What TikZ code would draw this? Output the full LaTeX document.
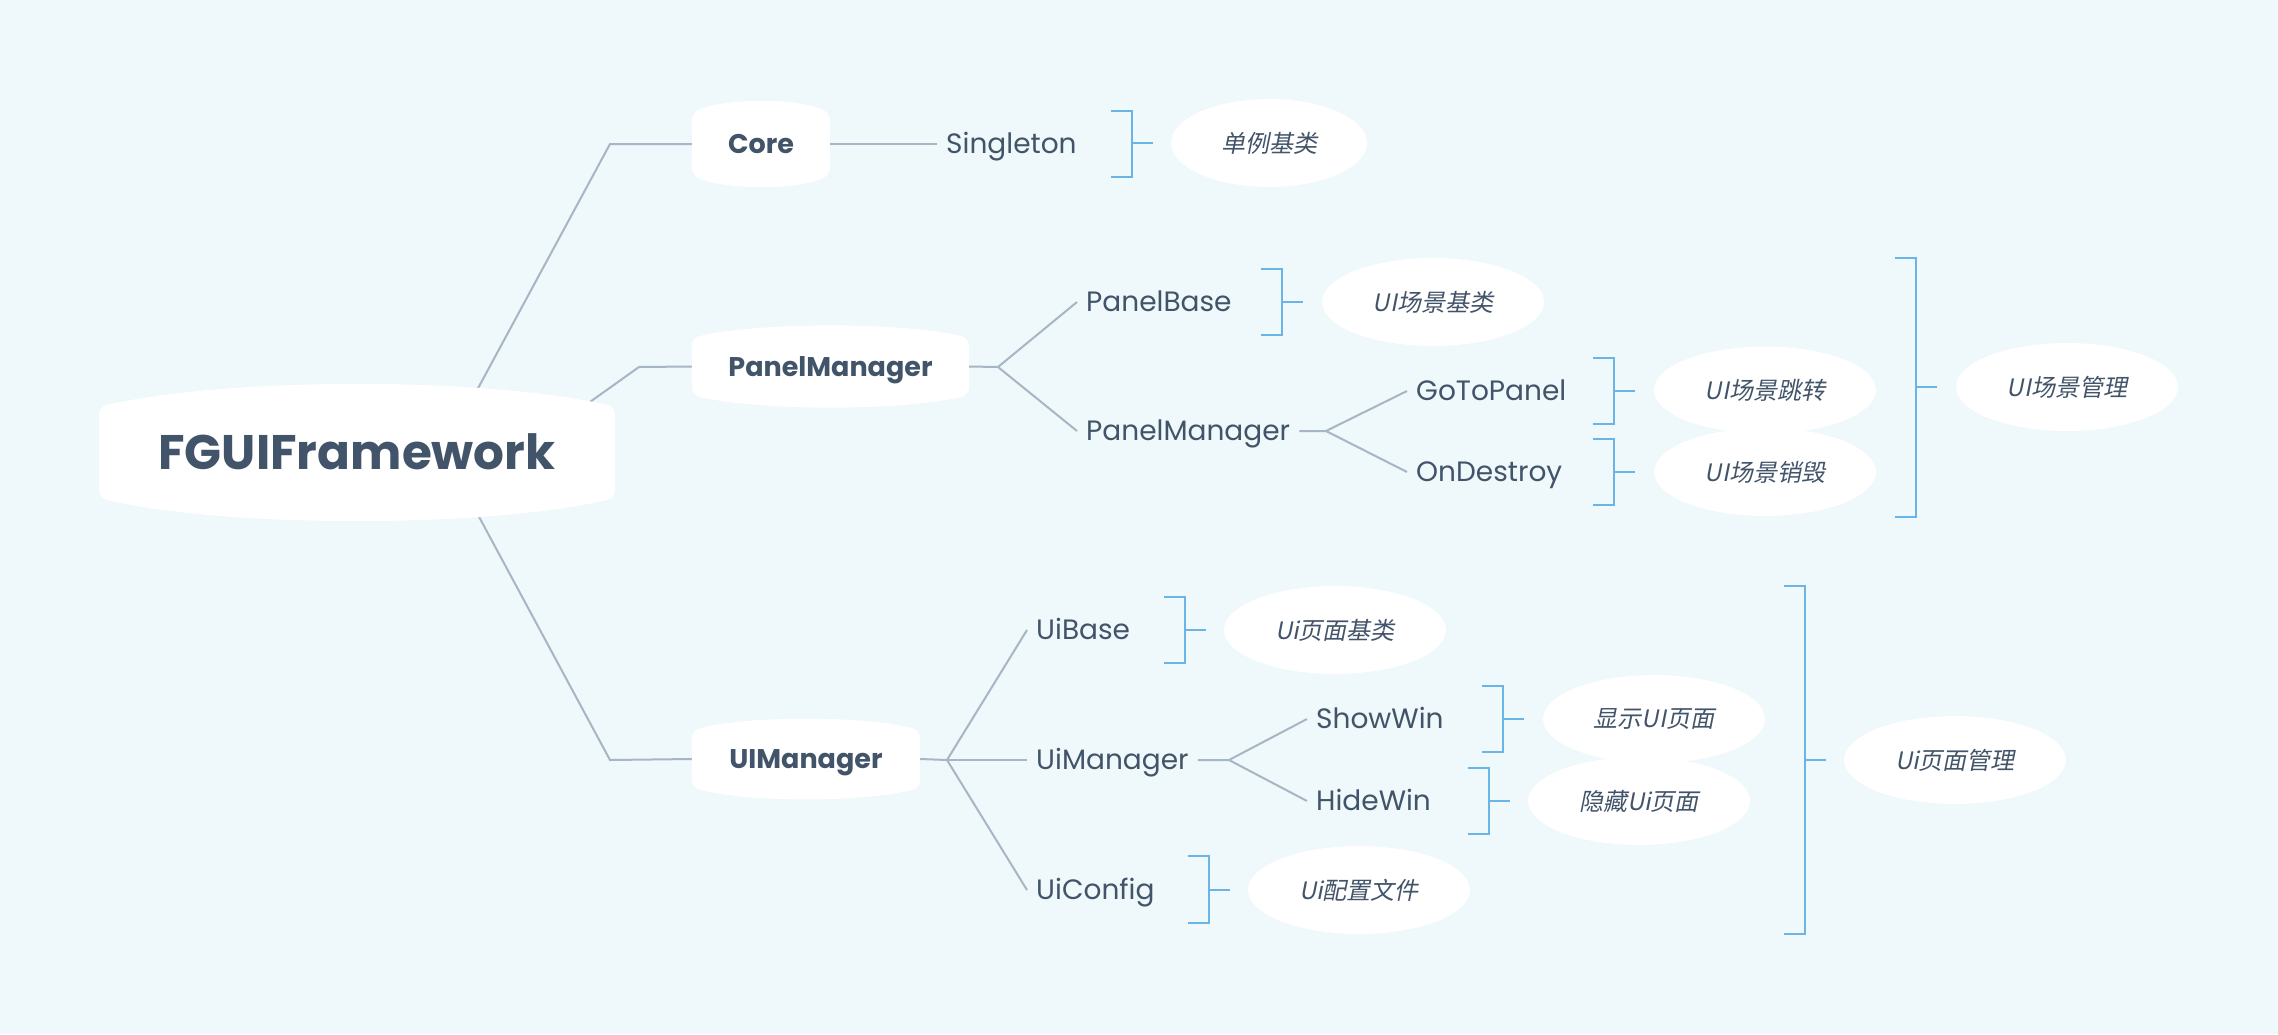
\documentclass[tikz,border=0pt]{standalone}
\usepackage{fontspec}
\setmainfont{Poppins}
\newfontfamily\cjk[FakeSlant=0.2]{Noto Sans CJK SC}
\usetikzlibrary{shapes.geometric,calc}
\pgfdeclarelayer{bg}\pgfdeclarelayer{lines}\pgfdeclarelayer{shapes}
\pgfsetlayers{bg,lines,shapes,main}
\definecolor{bgc}{HTML}{EFF8FA}
\definecolor{txt}{HTML}{425469}
\definecolor{connc}{HTML}{A7B6C5}
\definecolor{brk}{HTML}{6AB4E6}
\newcommand\barrelfill[2]{%
 \begin{pgfonlayer}{shapes}
 \fill[white, rounded corners=8pt] (#1.north west) .. controls ($(#1.north west)!0.25!(#1.north east)+(0,-#2)$) and ($(#1.north west)!0.75!(#1.north east)+(0,-#2)$) .. (#1.north east) -- (#1.south east) .. controls ($(#1.south west)!0.75!(#1.south east)+(0,#2)$) and ($(#1.south west)!0.25!(#1.south east)+(0,#2)$) .. (#1.south west) -- cycle;
 \end{pgfonlayer}}
\newcommand\brak[4]{%
 \draw[brkline] (#1,#2) -| (#1+21,#3) -- (#1,#3);
 \draw[brkline] (#1+21,#4) -- (#1+42,#4);}
\tikzset{
 mainbox/.style={font=\bfseries\fontsize{27}{31}\selectfont, text=txt, inner sep=0pt, text height=19pt, text depth=0pt},
 plain/.style={font=\fontsize{28}{32}\selectfont, text=txt, inner xsep=9pt, inner ysep=4pt, text height=19.5pt, text depth=0pt, anchor=west},
 oval/.style={ellipse, fill=white, inner sep=0pt, font=\cjk\fontsize{24}{28}\selectfont, text=txt},
 connline/.style={draw=connc, line width=2pt},
 brkline/.style={draw=brk, line width=2pt},
}
\begin{document}
\begin{tikzpicture}[x=1pt,y=-1pt]
\begin{pgfonlayer}{bg}
\fill[bgc] (0,0) rectangle (2278,1034);
\end{pgfonlayer}
\useasboundingbox (0,0) rectangle (2278,1034);

% main boxes
\node[mainbox, font=\bfseries\fontsize{48.5}{54}\selectfont, text height=34pt, minimum width=516pt, minimum height=91pt] (root) at (357,452.5) {FGUIFramework};
\node[mainbox, minimum width=138pt, minimum height=62pt] (core) at (761,144) {Core};
\node[mainbox, minimum width=277pt, minimum height=57pt] (pm) at (830.5,366.5) {PanelManager};
\node[mainbox, minimum width=228pt, minimum height=57pt] (uim) at (806,759) {UIManager};
\barrelfill{root}{30}
\barrelfill{core}{15}
\barrelfill{pm}{16}
\barrelfill{uim}{15}

% plain text nodes
\node[plain] (singleton) at (937,144) {Singleton};
\node[plain] (panelbase) at (1077,302) {PanelBase};
\node[plain] (pm2) at (1077,431) {PanelManager};
\node[plain] (gotopanel) at (1407,391) {GoToPanel};
\node[plain] (ondestroy) at (1407,472) {OnDestroy};
\node[plain] (uibase) at (1027,630) {UiBase};
\node[plain] (uim2) at (1027,760) {UiManager};
\node[plain] (uiconfig) at (1027,890) {UiConfig};
\node[plain] (showwin) at (1307,719) {ShowWin};
\node[plain] (hidewin) at (1307,801) {HideWin};

% junctions
\coordinate (b1) at (610,144);
\coordinate (b2) at (639,367);
\coordinate (b3) at (610,760);
\coordinate (j1) at (998,367);
\coordinate (j2) at (1326,431);
\coordinate (j3) at (947,760);
\coordinate (j4) at (1229,760);

\begin{pgfonlayer}{lines}
\draw[connline] ($(root.north)+(111,0)$) -- (b1) -- (core.west);
\draw[connline] ($(root.north east)+(-39,5)$) -- (b2) -- (pm.west);
\draw[connline] ($(root.south)+(112,0)$) -- (b3) -- (uim.west);
\end{pgfonlayer}
\draw[connline] (core.east) -- (singleton.west);
\draw[connline] (pm.east) -- (j1) -- (panelbase.west);
\draw[connline] (j1) -- (pm2.west);
\draw[connline] (pm2.east) -- (j2) -- (gotopanel.west);
\draw[connline] (j2) -- (ondestroy.west);
\draw[connline] (uim.east) -- (j3) -- (uibase.west);
\draw[connline] (j3) -- (uim2.west);
\draw[connline] (j3) -- (uiconfig.west);
\draw[connline] (uim2.east) -- (j4) -- (showwin.west);
\draw[connline] (j4) -- (hidewin.west);

% brackets
\brak{1111}{111}{177}{143}
\brak{1261}{269}{335}{302}
\brak{1593}{358}{424}{391}
\brak{1593}{439}{505}{472}
\brak{1895}{258}{517}{387}
\brak{1164}{597}{663}{630}
\brak{1482}{686}{752}{719}
\brak{1468}{768}{834}{801}
\brak{1188}{856}{923}{890}
\brak{1784}{586}{934}{760}

% ovals
\node[oval, minimum width=196pt, minimum height=88pt] (o1) at (1269,143) {单例基类};
\node[oval, minimum width=222pt, minimum height=88pt] (o2) at (1433,302) {UI场景基类};
\node[oval, minimum width=222pt, minimum height=87pt] (o3) at (1765,390) {UI场景跳转};
\node[oval, minimum width=222pt, minimum height=88pt] (o4) at (1765,472) {UI场景销毁};
\node[oval, minimum width=222pt, minimum height=88pt] (o5) at (2067,387) {UI场景管理};
\node[oval, minimum width=222pt, minimum height=88pt] (o6) at (1335,630) {Ui页面基类};
\node[oval, minimum width=222pt, minimum height=88pt] (o7) at (1654,719) {显示UI页面};
\node[oval, minimum width=222pt, minimum height=88pt] (o8) at (1639,801) {隐藏Ui页面};
\node[oval, minimum width=222pt, minimum height=88pt] (o9) at (1359,890) {Ui配置文件};
\node[oval, minimum width=222pt, minimum height=88pt] (o10) at (1955,760) {Ui页面管理};
\end{tikzpicture}
\end{document}
